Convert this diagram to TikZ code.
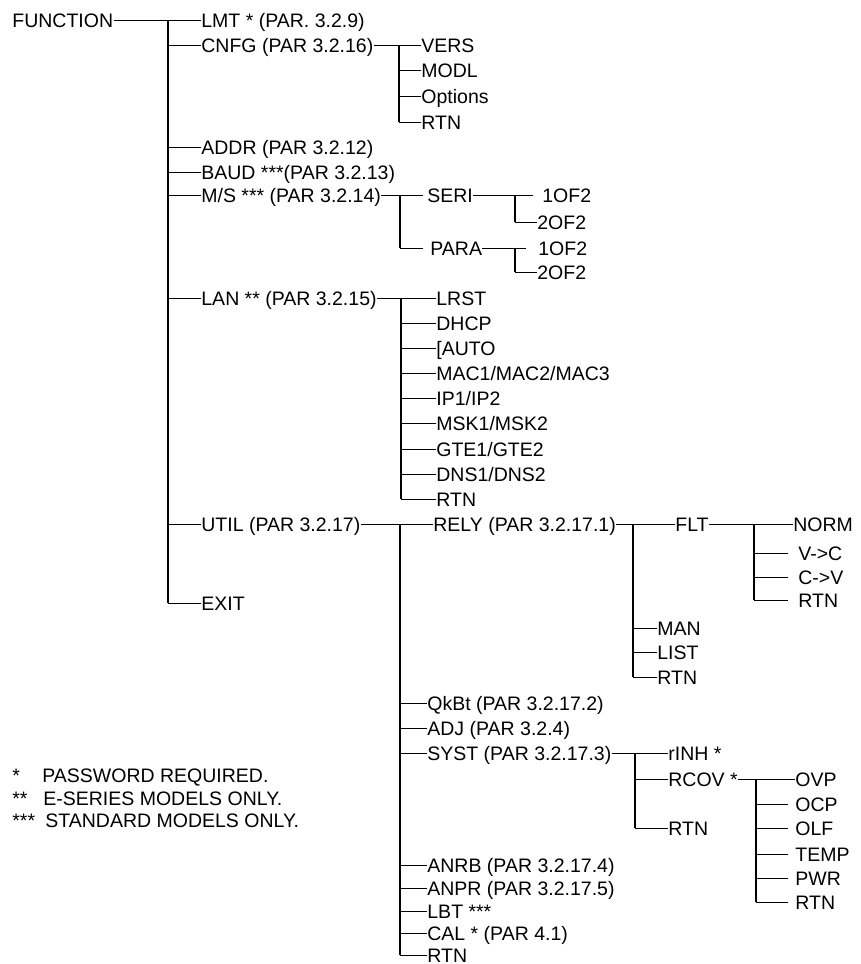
\documentclass[tikz,border=0pt]{standalone}
\usepackage{fontspec}
\setmainfont{Liberation Sans}
\begin{document}
\begin{tikzpicture}[x=0.5pt,y=-0.5pt,
  item/.style={anchor=west,inner sep=0pt,text height=7pt,text depth=0pt,font=\fontsize{9.75}{11}\selectfont},
  link/.style={line width=0.5pt},
  trunk/.style={line width=1.3pt}]
\useasboundingbox (0,0) rectangle (861,964);
% top level
\node[item] (fn) at (12,20) {FUNCTION};
\node[item] (lmt) at (201,20) {LMT * (PAR. 3.2.9)};
\node[item] (cnfg) at (201,45) {CNFG (PAR 3.2.16)};
\node[item] (addr) at (201,147) {ADDR (PAR 3.2.12)};
\node[item] (baud) at (201,172) {BAUD ***(PAR 3.2.13)};
\node[item] (ms) at (201,195) {M/S *** (PAR 3.2.14)};
\node[item] (lan) at (201,298) {LAN ** (PAR 3.2.15)};
\node[item] (util) at (201,524) {UTIL (PAR 3.2.17)};
\node[item] (exit) at (201,603) {EXIT};
\coordinate (t0) at (168,20);
\draw[link] (fn.east) -- (lmt.west);
\draw[trunk] (t0) -- (t0 |- exit.west);
\foreach \n in {cnfg,addr,baud,ms,lan,util,exit}
  \draw[link] (t0 |- \n.west) -- (\n.west);
% CNFG
\node[item] (vers) at (421,45) {VERS};
\node[item] (modl) at (421,70) {MODL};
\node[item] (opts) at (421,96) {Options};
\node[item] (cnfgrtn) at (421,122) {RTN};
\coordinate (t1) at (399,45);
\draw[link] (cnfg.east) -- (vers.west);
\draw[trunk] (t1) -- (t1 |- cnfgrtn.west);
\foreach \n in {modl,opts,cnfgrtn}
  \draw[link] (t1 |- \n.west) -- (\n.west);
% M/S
\node[item] (seri) at (423,195) {\hspace{2pt}SERI\hspace{4pt}};
\node[item] (para) at (423,248) {\hspace{3.5pt}PARA};
\node[item] (seri1) at (533,195) {\hspace{4.5pt}1OF2};
\node[item] (seri2) at (537,222) {2OF2};
\node[item] (para1) at (526,248) {\hspace{6pt}1OF2};
\node[item] (para2) at (537,272) {2OF2};
\coordinate (t2) at (400,195);
\coordinate (t3) at (515,195);
\coordinate (t4) at (515,248);
\draw[link] (ms.east) -- (seri.west);
\draw[trunk] (t2) -- (t2 |- para.west);
\draw[link] (t2 |- para.west) -- (para.west);
\draw[link] (seri.east) -- (seri1.west);
\draw[trunk] (t3) -- (t3 |- seri2.west);
\draw[link] (t3 |- seri2.west) -- (seri2.west);
\draw[link] (para.east) -- (para1.west);
\draw[trunk] (t4) -- (t4 |- para2.west);
\draw[link] (t4 |- para2.west) -- (para2.west);
% LAN
\node[item] (lrst) at (436,298) {LRST};
\node[item] (dhcp) at (436,323) {DHCP};
\node[item] (auto) at (436,348) {[AUTO};
\node[item] (mac) at (436,373) {MAC1/MAC2/MAC3};
\node[item] (ip) at (436,398) {IP1/IP2};
\node[item] (msk) at (436,423) {MSK1/MSK2};
\node[item] (gte) at (436,449) {GTE1/GTE2};
\node[item] (dns) at (436,474) {DNS1/DNS2};
\node[item] (lanrtn) at (436,499) {RTN};
\coordinate (t5) at (401,298);
\draw[link] (lan.east) -- (lrst.west);
\draw[trunk] (t5) -- (t5 |- lanrtn.west);
\foreach \n in {dhcp,auto,mac,ip,msk,gte,dns,lanrtn}
  \draw[link] (t5 |- \n.west) -- (\n.west);
% UTIL
\node[item] (rely) at (433,524) {RELY (PAR 3.2.17.1)};
\node[item] (qkbt) at (427,703) {QkBt (PAR 3.2.17.2)};
\node[item] (adj) at (427,728) {ADJ (PAR 3.2.4)};
\node[item] (syst) at (427,753) {SYST (PAR 3.2.17.3)};
\node[item] (anrb) at (427,865) {ANRB (PAR 3.2.17.4)};
\node[item] (anpr) at (427,888) {ANPR (PAR 3.2.17.5)};
\node[item] (lbt) at (427,911) {LBT ***};
\node[item] (cal) at (427,933) {CAL * (PAR 4.1)};
\node[item] (utilrtn) at (427,955) {RTN};
\coordinate (t6) at (400,524);
\draw[link] (util.east) -- (rely.west);
\draw[trunk] (t6) -- (t6 |- utilrtn.west);
\foreach \n in {qkbt,adj,syst,anrb,anpr,lbt,cal,utilrtn}
  \draw[link] (t6 |- \n.west) -- (\n.west);
% RELY
\node[item] (flt) at (675,524) {FLT};
\node[item] (man) at (657,628) {MAN};
\node[item] (list) at (657,652) {LIST};
\node[item] (relyrtn) at (657,677) {RTN};
\coordinate (t7) at (633,524);
\draw[link] (rely.east) -- (flt.west);
\draw[trunk] (t7) -- (t7 |- relyrtn.west);
\foreach \n in {man,list,relyrtn}
  \draw[link] (t7 |- \n.west) -- (\n.west);
% FLT
\node[item] (norm) at (793,524) {NORM};
\node[item] (vc) at (788,553) {\hspace{5pt}V->C};
\node[item] (cv) at (788,577) {\hspace{5pt}C->V};
\node[item] (fltrtn) at (788,600) {\hspace{5pt}RTN};
\coordinate (t8) at (754,524);
\draw[link] (flt.east) -- (norm.west);
\draw[trunk] (t8) -- (t8 |- fltrtn.west);
\foreach \n in {vc,cv,fltrtn}
  \draw[link] (t8 |- \n.west) -- (\n.west);
% SYST
\node[item] (rinh) at (668,753) {rINH *};
\node[item] (rcov) at (668,779) {RCOV *};
\node[item] (systrtn) at (668,828) {RTN};
\coordinate (t9) at (635,753);
\draw[link] (syst.east) -- (rinh.west);
\draw[trunk] (t9) -- (t9 |- systrtn.west);
\foreach \n in {rcov,systrtn}
  \draw[link] (t9 |- \n.west) -- (\n.west);
% RCOV
\node[item] (ovp) at (795,779) {OVP};
\node[item] (ocp) at (788,804) {\hspace{3.5pt}OCP};
\node[item] (olf) at (788,828) {\hspace{3.5pt}OLF};
\node[item] (temp) at (788,854) {\hspace{3.5pt}TEMP};
\node[item] (pwr) at (788,878) {\hspace{3.5pt}PWR};
\node[item] (rcovrtn) at (788,902) {\hspace{3.5pt}RTN};
\coordinate (t10) at (756,779);
\draw[link] (rcov.east) -- (ovp.west);
\draw[trunk] (t10) -- (t10 |- rcovrtn.west);
\foreach \n in {ocp,olf,temp,pwr,rcovrtn}
  \draw[link] (t10 |- \n.west) -- (\n.west);
% notes
\node[item] (mk1) at (12,775) {*};
\node[item] (note1) at (42,775) {PASSWORD REQUIRED.};
\node[item] (mk2) at (12,798) {**};
\node[item] (note2) at (43,798) {E-SERIES MODELS ONLY.};
\node[item] (mk3) at (12,820) {***};
\node[item] (note3) at (45,820) {STANDARD MODELS ONLY.};
\end{tikzpicture}
\end{document}
